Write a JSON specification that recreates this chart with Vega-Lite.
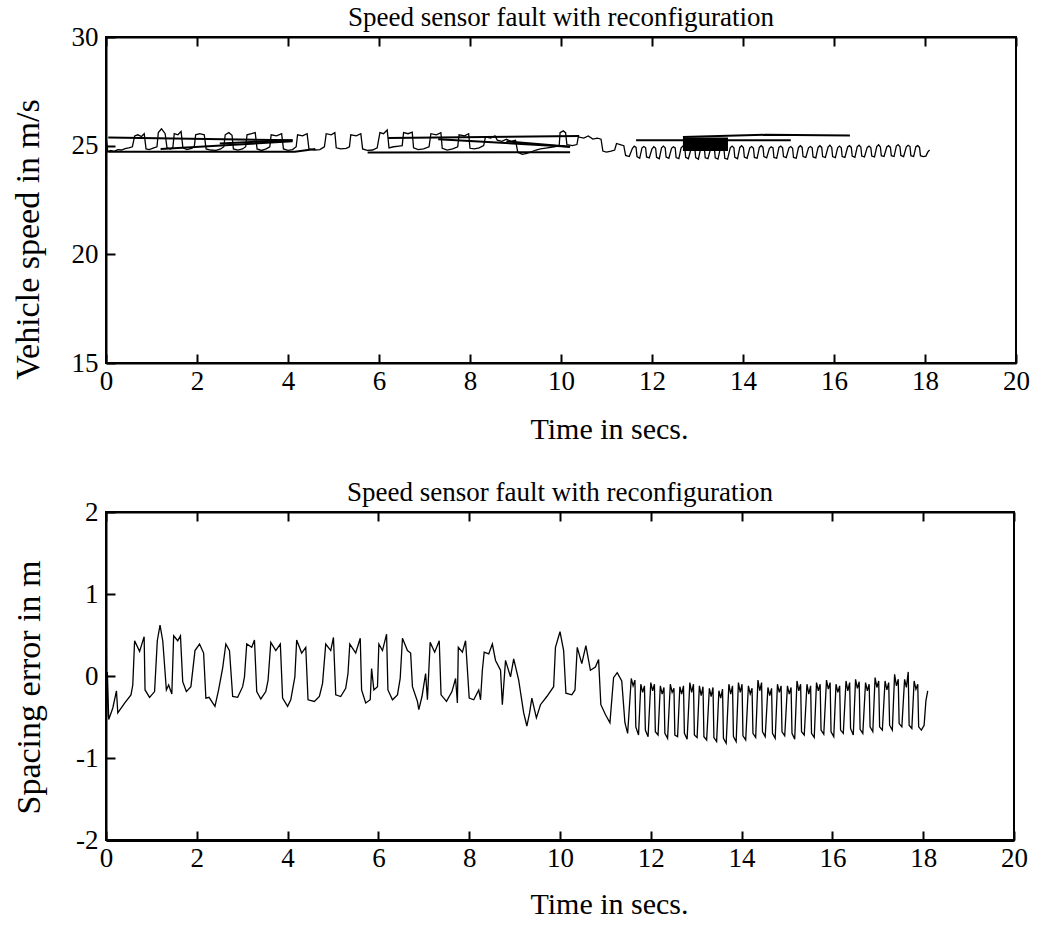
{
"$schema": "https://vega.github.io/schema/vega-lite/v6.json",
"background": "white",
"padding": {"left": 10, "top": 3, "right": 10, "bottom": 10},
"bounds": "flush",
"spacing": 149,
"config": {
  "font": "Liberation Serif",
  "view": {"stroke": "black", "strokeWidth": 2},
  "title": {"font": "Liberation Serif", "fontSize": 27, "fontWeight": "normal", "color": "black", "baseline": "alphabetic", "offset": -9},
  "axis": {"domainColor": "black", "domainWidth": 2, "tickColor": "black", "tickWidth": 2, "labelColor": "black", "titleColor": "black", "labelFont": "Liberation Serif", "titleFont": "Liberation Serif", "labelFontSize": 27, "titleFontSize": 30, "titleFontWeight": "normal", "grid": false, "tickSize": -9, "labelPadding": 17, "labelFlush": false, "labelOverlap": false, "labelExpr": "datum.value + ''"},
  "axisX": {"labelPadding": 14},
  "axisY": {"titleFontSize": 34}
},
"datasets": {
"speed": [
{"t":0,"v":15.0},{"t":0.01,"v":25.25},{"t":0.04,"v":24.72},{"t":0.1,"v":24.78},{"t":0.18,"v":24.74},{"t":0.26,"v":24.82},{"t":0.34,"v":24.8},{"t":0.42,"v":24.86},{"t":0.5,"v":24.9},{"t":0.58,"v":24.95},
{"t":0.63,"v":25.45},{"t":0.7,"v":25.5},{"t":0.78,"v":25.42},{"t":0.84,"v":25.55},{"t":0.88,"v":24.85},{"t":0.95,"v":24.82},{"t":1.05,"v":24.9},{"t":1.12,"v":24.95},
{"t":1.15,"v":25.6},{"t":1.22,"v":25.78},{"t":1.3,"v":25.55},{"t":1.34,"v":24.9},{"t":1.42,"v":24.85},{"t":1.47,"v":24.92},
{"t":1.5,"v":25.55},{"t":1.58,"v":25.5},{"t":1.65,"v":25.65},{"t":1.69,"v":24.9},{"t":1.78,"v":24.82},{"t":1.88,"v":24.88},{"t":1.94,"v":24.95},
{"t":1.97,"v":25.5},{"t":2.06,"v":25.55},{"t":2.16,"v":25.5},{"t":2.2,"v":24.85},{"t":2.3,"v":24.8},{"t":2.42,"v":24.78},{"t":2.52,"v":24.85},{"t":2.59,"v":24.95},
{"t":2.62,"v":25.5},{"t":2.7,"v":25.6},{"t":2.77,"v":25.48},{"t":2.8,"v":24.85},{"t":2.9,"v":24.8},{"t":3.0,"v":24.85},{"t":3.07,"v":24.95},
{"t":3.1,"v":25.5},{"t":3.2,"v":25.55},{"t":3.28,"v":25.6},{"t":3.32,"v":24.85},{"t":3.42,"v":24.78},{"t":3.52,"v":24.85},{"t":3.6,"v":24.95},
{"t":3.63,"v":25.5},{"t":3.75,"v":25.45},{"t":3.86,"v":25.55},{"t":3.9,"v":24.85},{"t":4.0,"v":24.78},{"t":4.1,"v":24.82},{"t":4.18,"v":24.95},
{"t":4.21,"v":25.5},{"t":4.32,"v":25.45},{"t":4.42,"v":25.55},{"t":4.46,"v":24.85},{"t":4.58,"v":24.8},{"t":4.7,"v":24.82},{"t":4.8,"v":24.95},
{"t":4.84,"v":25.55},{"t":4.95,"v":25.5},{"t":5.03,"v":25.6},{"t":5.06,"v":24.9},{"t":5.16,"v":24.85},{"t":5.28,"v":24.88},{"t":5.35,"v":24.95},
{"t":5.38,"v":25.5},{"t":5.5,"v":25.45},{"t":5.6,"v":25.55},{"t":5.64,"v":24.85},{"t":5.74,"v":24.78},{"t":5.86,"v":24.8},{"t":5.96,"v":24.9},
{"t":6.02,"v":25.6},{"t":6.1,"v":25.55},{"t":6.18,"v":25.72},{"t":6.22,"v":24.9},{"t":6.32,"v":24.95},{"t":6.44,"v":24.98},{"t":6.51,"v":25.0},
{"t":6.54,"v":25.6},{"t":6.64,"v":25.55},{"t":6.73,"v":25.62},{"t":6.76,"v":24.9},{"t":6.86,"v":24.82},{"t":6.98,"v":24.85},{"t":7.1,"v":24.95},
{"t":7.14,"v":25.55},{"t":7.26,"v":25.5},{"t":7.36,"v":25.6},{"t":7.39,"v":24.88},{"t":7.5,"v":24.8},{"t":7.62,"v":24.85},{"t":7.73,"v":24.95},
{"t":7.76,"v":25.5},{"t":7.88,"v":25.45},{"t":7.97,"v":25.55},{"t":8.0,"v":24.88},{"t":8.1,"v":24.85},{"t":8.2,"v":24.9},{"t":8.3,"v":25.0},
{"t":8.34,"v":25.4},{"t":8.45,"v":25.35},{"t":8.55,"v":25.45},{"t":8.6,"v":25.25},{"t":8.7,"v":25.2},{"t":8.8,"v":25.3},{"t":8.9,"v":25.2},{"t":9.0,"v":25.25},
{"t":9.05,"v":24.7},{"t":9.15,"v":24.6},{"t":9.25,"v":24.65},{"t":9.35,"v":24.72},{"t":9.45,"v":24.8},{"t":9.55,"v":24.85},{"t":9.7,"v":24.9},{"t":9.85,"v":24.95},{"t":9.96,"v":25.0},
{"t":9.98,"v":25.6},{"t":10.05,"v":25.68},{"t":10.1,"v":25.6},{"t":10.13,"v":25.05},{"t":10.25,"v":25.0},{"t":10.35,"v":25.05},
{"t":10.38,"v":25.4},{"t":10.5,"v":25.35},{"t":10.6,"v":25.45},{"t":10.7,"v":25.3},{"t":10.8,"v":25.35},{"t":10.88,"v":25.3},
{"t":10.92,"v":24.75},{"t":11.0,"v":24.7},{"t":11.1,"v":24.75},{"t":11.18,"v":24.8},{"t":11.22,"v":25.1},{"t":11.3,"v":25.05},{"t":11.38,"v":25.0},{"t":11.42,"v":24.55},{"t":11.5,"v":24.5},
{"t":11.57,"v":24.88},{"t":11.61,"v":24.98},{"t":11.65,"v":24.92},{"t":11.67,"v":24.5},{"t":11.73,"v":24.42},
{"t":11.78,"v":24.9},{"t":11.82,"v":24.96},{"t":11.86,"v":24.9},{"t":11.88,"v":24.48},{"t":11.94,"v":24.44},
{"t":12.0,"v":24.86},{"t":12.04,"v":24.95},{"t":12.08,"v":24.88},{"t":12.1,"v":24.46},{"t":12.16,"v":24.4},
{"t":12.21,"v":24.9},{"t":12.25,"v":24.98},{"t":12.29,"v":24.9},{"t":12.31,"v":24.48},{"t":12.37,"v":24.42},
{"t":12.43,"v":24.88},{"t":12.47,"v":24.95},{"t":12.51,"v":24.9},{"t":12.53,"v":24.45},{"t":12.59,"v":24.4},
{"t":12.64,"v":24.9},{"t":12.68,"v":24.98},{"t":12.72,"v":24.92},{"t":12.74,"v":24.46},{"t":12.8,"v":24.4},
{"t":12.86,"v":24.88},{"t":12.9,"v":24.96},{"t":12.94,"v":24.9},{"t":12.96,"v":24.45},{"t":13.02,"v":24.38},
{"t":13.07,"v":24.9},{"t":13.11,"v":24.95},{"t":13.15,"v":24.88},{"t":13.17,"v":24.44},{"t":13.23,"v":24.4},
{"t":13.29,"v":24.88},{"t":13.33,"v":24.96},{"t":13.37,"v":24.9},{"t":13.39,"v":24.44},{"t":13.45,"v":24.38},
{"t":13.5,"v":24.86},{"t":13.54,"v":24.94},{"t":13.58,"v":24.88},{"t":13.6,"v":24.42},{"t":13.66,"v":24.38},
{"t":13.72,"v":24.9},{"t":13.76,"v":24.98},{"t":13.8,"v":24.9},{"t":13.82,"v":24.46},{"t":13.88,"v":24.4},
{"t":13.93,"v":24.92},{"t":13.97,"v":25.0},{"t":14.01,"v":24.9},{"t":14.03,"v":24.48},{"t":14.09,"v":24.42},
{"t":14.15,"v":24.9},{"t":14.19,"v":24.96},{"t":14.23,"v":24.88},{"t":14.25,"v":24.46},{"t":14.31,"v":24.42},
{"t":14.36,"v":24.92},{"t":14.4,"v":25.0},{"t":14.44,"v":24.92},{"t":14.46,"v":24.5},{"t":14.52,"v":24.44},
{"t":14.58,"v":24.88},{"t":14.62,"v":24.95},{"t":14.66,"v":24.9},{"t":14.68,"v":24.46},{"t":14.74,"v":24.42},
{"t":14.79,"v":24.92},{"t":14.83,"v":24.98},{"t":14.87,"v":24.9},{"t":14.89,"v":24.5},{"t":14.95,"v":24.45},
{"t":15.01,"v":24.9},{"t":15.05,"v":24.96},{"t":15.09,"v":24.88},{"t":15.11,"v":24.46},{"t":15.17,"v":24.42},
{"t":15.22,"v":24.92},{"t":15.26,"v":25.0},{"t":15.3,"v":24.92},{"t":15.32,"v":24.5},{"t":15.38,"v":24.46},
{"t":15.44,"v":24.9},{"t":15.48,"v":24.96},{"t":15.52,"v":24.9},{"t":15.54,"v":24.48},{"t":15.6,"v":24.44},
{"t":15.65,"v":24.92},{"t":15.69,"v":25.0},{"t":15.73,"v":24.92},{"t":15.75,"v":24.5},{"t":15.81,"v":24.46},
{"t":15.87,"v":24.94},{"t":15.91,"v":25.02},{"t":15.95,"v":24.92},{"t":15.97,"v":24.5},{"t":16.03,"v":24.45},
{"t":16.08,"v":24.9},{"t":16.12,"v":24.98},{"t":16.16,"v":24.9},{"t":16.18,"v":24.5},{"t":16.24,"v":24.46},
{"t":16.3,"v":24.94},{"t":16.34,"v":25.0},{"t":16.38,"v":24.92},{"t":16.4,"v":24.52},{"t":16.46,"v":24.46},
{"t":16.51,"v":24.95},{"t":16.55,"v":25.02},{"t":16.59,"v":24.94},{"t":16.61,"v":24.52},{"t":16.67,"v":24.48},
{"t":16.73,"v":24.92},{"t":16.77,"v":24.98},{"t":16.81,"v":24.9},{"t":16.83,"v":24.52},{"t":16.89,"v":24.48},
{"t":16.94,"v":24.96},{"t":16.98,"v":25.04},{"t":17.02,"v":24.94},{"t":17.04,"v":24.54},{"t":17.1,"v":24.5},
{"t":17.16,"v":24.94},{"t":17.2,"v":25.0},{"t":17.24,"v":24.92},{"t":17.26,"v":24.54},{"t":17.32,"v":24.5},
{"t":17.37,"v":24.98},{"t":17.41,"v":25.05},{"t":17.45,"v":24.95},{"t":17.47,"v":24.55},{"t":17.53,"v":24.5},
{"t":17.59,"v":24.95},{"t":17.63,"v":25.02},{"t":17.67,"v":24.96},{"t":17.69,"v":24.54},{"t":17.75,"v":24.5},
{"t":17.8,"v":24.95},{"t":17.84,"v":25.0},{"t":17.88,"v":24.92},{"t":17.9,"v":24.54},{"t":17.96,"v":24.5},
{"t":18.02,"v":24.52},{"t":18.06,"v":24.7},{"t":18.1,"v":24.8}
],
"speedArt": [
{"seg":"A","t":0.05,"v":25.38},{"seg":"A","t":4.1,"v":25.25},
{"seg":"B","t":0.05,"v":24.72},{"seg":"B","t":4.15,"v":24.72},{"seg":"B","t":4.6,"v":24.85},
{"seg":"C","t":1.2,"v":24.85},{"seg":"C","t":4.1,"v":25.2},
{"seg":"D","t":2.5,"v":25.1},{"seg":"D","t":4.1,"v":25.25},
{"seg":"E","t":6.2,"v":25.35},{"seg":"E","t":10.4,"v":25.45},
{"seg":"F","t":5.75,"v":24.68},{"seg":"F","t":10.2,"v":24.7},
{"seg":"G","t":7.3,"v":25.3},{"seg":"G","t":10.2,"v":24.95},
{"seg":"H","t":8.8,"v":25.2},{"seg":"H","t":10.2,"v":24.95},
{"seg":"I","t":11.65,"v":25.25},{"seg":"I","t":15.05,"v":25.25},
{"seg":"J","t":12.68,"v":25.4},{"seg":"J","t":14.5,"v":25.5},{"seg":"J","t":16.35,"v":25.47}
],
"speedBlock": [
{"t1":12.68,"t2":13.67,"v1":24.75,"v2":25.38}
],
"spacing": [
{"t":0,"v":-1.95},{"t":0.005,"v":0.75},{"t":0.015,"v":-0.5},{"t":0.03,"v":0.05},{"t":0.06,"v":-0.53},{"t":0.15,"v":-0.39},{"t":0.23,"v":-0.18},{"t":0.26,"v":-0.45},{"t":0.41,"v":-0.33},{"t":0.55,"v":-0.23},{"t":0.59,"v":-0.11},
{"t":0.63,"v":0.43},{"t":0.74,"v":0.3},{"t":0.84,"v":0.48},{"t":0.86,"v":-0.17},{"t":0.96,"v":-0.26},{"t":1.07,"v":-0.19},
{"t":1.13,"v":0.43},{"t":1.19,"v":0.62},{"t":1.25,"v":0.43},{"t":1.33,"v":-0.17},{"t":1.38,"v":-0.11},{"t":1.45,"v":-0.22},
{"t":1.49,"v":0.49},{"t":1.58,"v":0.43},{"t":1.64,"v":0.49},{"t":1.69,"v":-0.07},{"t":1.77,"v":-0.19},{"t":1.87,"v":-0.13},
{"t":1.96,"v":0.31},{"t":2.06,"v":0.39},{"t":2.15,"v":0.28},{"t":2.2,"v":-0.27},{"t":2.27,"v":-0.26},{"t":2.4,"v":-0.37},{"t":2.48,"v":-0.17},{"t":2.57,"v":0.1},
{"t":2.64,"v":0.39},{"t":2.72,"v":0.31},{"t":2.79,"v":-0.25},{"t":2.9,"v":-0.26},{"t":3.01,"v":-0.13},{"t":3.05,"v":-0.01},
{"t":3.1,"v":0.39},{"t":3.21,"v":0.35},{"t":3.27,"v":0.44},{"t":3.32,"v":-0.19},{"t":3.41,"v":-0.28},{"t":3.52,"v":-0.19},{"t":3.57,"v":-0.05},
{"t":3.63,"v":0.41},{"t":3.74,"v":0.31},{"t":3.84,"v":0.39},{"t":3.89,"v":-0.27},{"t":4.0,"v":-0.37},{"t":4.07,"v":-0.29},{"t":4.16,"v":-0.01},
{"t":4.2,"v":0.44},{"t":4.31,"v":0.28},{"t":4.4,"v":0.35},{"t":4.45,"v":-0.29},{"t":4.59,"v":-0.31},{"t":4.7,"v":-0.25},{"t":4.77,"v":-0.09},
{"t":4.84,"v":0.39},{"t":4.95,"v":0.31},{"t":5.01,"v":0.47},{"t":5.06,"v":-0.23},{"t":5.17,"v":-0.25},{"t":5.28,"v":-0.15},{"t":5.33,"v":0.03},
{"t":5.37,"v":0.39},{"t":5.5,"v":0.28},{"t":5.6,"v":0.46},{"t":5.63,"v":-0.17},{"t":5.72,"v":-0.33},{"t":5.82,"v":-0.29},{"t":5.85,"v":0.09},{"t":5.9,"v":-0.17},{"t":5.98,"v":-0.13},
{"t":6.01,"v":0.39},{"t":6.09,"v":0.31},{"t":6.18,"v":0.51},{"t":6.21,"v":-0.17},{"t":6.31,"v":-0.29},{"t":6.42,"v":-0.23},{"t":6.48,"v":-0.03},
{"t":6.53,"v":0.46},{"t":6.64,"v":0.31},{"t":6.71,"v":0.28},{"t":6.75,"v":-0.13},{"t":6.86,"v":-0.31},{"t":6.89,"v":-0.41},{"t":6.96,"v":-0.25},{"t":7.04,"v":0.03},{"t":7.08,"v":-0.29},
{"t":7.14,"v":0.41},{"t":7.24,"v":0.29},{"t":7.34,"v":0.43},{"t":7.38,"v":-0.23},{"t":7.5,"v":-0.31},{"t":7.62,"v":-0.19},{"t":7.7,"v":-0.03},{"t":7.74,"v":-0.33},
{"t":7.76,"v":0.35},{"t":7.85,"v":0.29},{"t":7.92,"v":0.43},{"t":8.0,"v":-0.27},{"t":8.1,"v":-0.29},{"t":8.21,"v":-0.17},{"t":8.25,"v":-0.29},{"t":8.29,"v":0.07},
{"t":8.33,"v":0.29},{"t":8.43,"v":0.27},{"t":8.51,"v":0.39},{"t":8.58,"v":0.19},{"t":8.69,"v":0.07},{"t":8.73,"v":-0.35},{"t":8.8,"v":0.19},{"t":8.91,"v":-0.01},{"t":8.98,"v":0.21},{"t":9.09,"v":-0.05},
{"t":9.2,"v":-0.45},{"t":9.27,"v":-0.61},{"t":9.33,"v":-0.45},{"t":9.38,"v":-0.27},{"t":9.48,"v":-0.51},{"t":9.57,"v":-0.35},{"t":9.71,"v":-0.25},{"t":9.86,"v":-0.13},
{"t":9.9,"v":0.35},{"t":10.0,"v":0.54},{"t":10.08,"v":0.31},{"t":10.13,"v":-0.21},{"t":10.26,"v":-0.23},{"t":10.33,"v":-0.17},
{"t":10.38,"v":0.35},{"t":10.48,"v":0.15},{"t":10.57,"v":0.37},{"t":10.67,"v":0.07},{"t":10.78,"v":0.11},{"t":10.85,"v":0.2},
{"t":10.9,"v":-0.35},{"t":11.0,"v":-0.47},{"t":11.1,"v":-0.57},{"t":11.18,"v":-0.02},{"t":11.26,"v":0.04},{"t":11.36,"v":-0.06},{"t":11.43,"v":-0.57},{"t":11.49,"v":-0.7},
{"t":11.57,"v":-0.03},{"t":11.61,"v":-0.12},{"t":11.65,"v":-0.05},{"t":11.67,"v":-0.62},{"t":11.73,"v":-0.72},
{"t":11.78,"v":-0.1},{"t":11.82,"v":-0.2},{"t":11.86,"v":-0.12},{"t":11.88,"v":-0.66},{"t":11.94,"v":-0.74},
{"t":12.0,"v":-0.08},{"t":12.04,"v":-0.18},{"t":12.08,"v":-0.1},{"t":12.1,"v":-0.68},{"t":12.16,"v":-0.72},
{"t":12.21,"v":-0.12},{"t":12.25,"v":-0.22},{"t":12.29,"v":-0.14},{"t":12.31,"v":-0.7},{"t":12.37,"v":-0.76},
{"t":12.43,"v":-0.1},{"t":12.47,"v":-0.2},{"t":12.51,"v":-0.15},{"t":12.53,"v":-0.72},{"t":12.59,"v":-0.74},
{"t":12.64,"v":-0.13},{"t":12.68,"v":-0.22},{"t":12.72,"v":-0.12},{"t":12.74,"v":-0.7},{"t":12.8,"v":-0.77},
{"t":12.86,"v":-0.08},{"t":12.9,"v":-0.2},{"t":12.94,"v":-0.1},{"t":12.96,"v":-0.72},{"t":13.02,"v":-0.75},
{"t":13.07,"v":-0.12},{"t":13.11,"v":-0.24},{"t":13.15,"v":-0.13},{"t":13.17,"v":-0.74},{"t":13.23,"v":-0.78},
{"t":13.29,"v":-0.15},{"t":13.33,"v":-0.25},{"t":13.37,"v":-0.14},{"t":13.39,"v":-0.75},{"t":13.45,"v":-0.8},
{"t":13.5,"v":-0.18},{"t":13.54,"v":-0.27},{"t":13.58,"v":-0.16},{"t":13.6,"v":-0.76},{"t":13.66,"v":-0.82},
{"t":13.72,"v":-0.1},{"t":13.76,"v":-0.22},{"t":13.8,"v":-0.12},{"t":13.82,"v":-0.74},{"t":13.88,"v":-0.8},
{"t":13.93,"v":-0.08},{"t":13.97,"v":-0.2},{"t":14.01,"v":-0.1},{"t":14.03,"v":-0.73},{"t":14.09,"v":-0.78},
{"t":14.15,"v":-0.12},{"t":14.19,"v":-0.22},{"t":14.23,"v":-0.15},{"t":14.25,"v":-0.7},{"t":14.31,"v":-0.75},
{"t":14.36,"v":-0.05},{"t":14.4,"v":-0.18},{"t":14.44,"v":-0.08},{"t":14.46,"v":-0.68},{"t":14.52,"v":-0.74},
{"t":14.58,"v":-0.14},{"t":14.62,"v":-0.24},{"t":14.66,"v":-0.15},{"t":14.68,"v":-0.7},{"t":14.74,"v":-0.76},
{"t":14.79,"v":-0.1},{"t":14.83,"v":-0.2},{"t":14.87,"v":-0.12},{"t":14.89,"v":-0.68},{"t":14.95,"v":-0.73},
{"t":15.01,"v":-0.12},{"t":15.05,"v":-0.22},{"t":15.09,"v":-0.14},{"t":15.11,"v":-0.7},{"t":15.17,"v":-0.77},
{"t":15.22,"v":-0.06},{"t":15.26,"v":-0.18},{"t":15.3,"v":-0.1},{"t":15.32,"v":-0.68},{"t":15.38,"v":-0.72},
{"t":15.44,"v":-0.1},{"t":15.48,"v":-0.22},{"t":15.52,"v":-0.12},{"t":15.54,"v":-0.7},{"t":15.6,"v":-0.75},
{"t":15.65,"v":-0.08},{"t":15.69,"v":-0.18},{"t":15.73,"v":-0.1},{"t":15.75,"v":-0.66},{"t":15.81,"v":-0.71},
{"t":15.87,"v":-0.05},{"t":15.91,"v":-0.16},{"t":15.95,"v":-0.08},{"t":15.97,"v":-0.68},{"t":16.03,"v":-0.74},
{"t":16.08,"v":-0.1},{"t":16.12,"v":-0.2},{"t":16.16,"v":-0.12},{"t":16.18,"v":-0.66},{"t":16.24,"v":-0.7},
{"t":16.3,"v":-0.06},{"t":16.34,"v":-0.18},{"t":16.38,"v":-0.08},{"t":16.4,"v":-0.64},{"t":16.46,"v":-0.72},
{"t":16.51,"v":-0.04},{"t":16.55,"v":-0.15},{"t":16.59,"v":-0.07},{"t":16.61,"v":-0.65},{"t":16.67,"v":-0.7},
{"t":16.73,"v":-0.08},{"t":16.77,"v":-0.18},{"t":16.81,"v":-0.1},{"t":16.83,"v":-0.62},{"t":16.89,"v":-0.68},
{"t":16.94,"v":-0.02},{"t":16.98,"v":-0.14},{"t":17.02,"v":-0.06},{"t":17.04,"v":-0.62},{"t":17.1,"v":-0.66},
{"t":17.16,"v":-0.06},{"t":17.2,"v":-0.17},{"t":17.24,"v":-0.08},{"t":17.26,"v":-0.6},{"t":17.32,"v":-0.66},
{"t":17.37,"v":0.02},{"t":17.41,"v":-0.12},{"t":17.45,"v":-0.04},{"t":17.47,"v":-0.58},{"t":17.53,"v":-0.62},
{"t":17.59,"v":-0.04},{"t":17.63,"v":-0.14},{"t":17.67,"v":0.05},{"t":17.69,"v":-0.6},{"t":17.75,"v":-0.64},
{"t":17.8,"v":-0.06},{"t":17.84,"v":-0.16},{"t":17.88,"v":-0.1},{"t":17.9,"v":-0.62},{"t":17.96,"v":-0.66},
{"t":18.02,"v":-0.6},{"t":18.06,"v":-0.3},{"t":18.1,"v":-0.18}
]
},
"vconcat": [
{
  "width": 910, "height": 326,
  "title": {"text": "Speed sensor fault with reconfiguration"},
  "layer": [
    {"data": {"name": "speed"},
     "mark": {"type": "line", "color": "black", "strokeWidth": 1.3},
     "encoding": {
       "x": {"field": "t", "type": "quantitative", "scale": {"domain": [0, 20], "nice": false},
             "axis": {"orient": "bottom", "values": [0,2,4,6,8,10,12,14,16,18,20], "title": "Time in secs.", "titlePadding": 20, "titleX": 503}},
       "y": {"field": "v", "type": "quantitative", "scale": {"domain": [15, 30], "nice": false, "zero": false},
             "axis": {"values": [15,20,25,30], "title": "Vehicle speed in m/s", "titlePadding": 26, "titleY": 202}}
     }},
    {"data": {"name": "speedArt"},
     "mark": {"type": "line", "color": "black", "strokeWidth": 2},
     "encoding": {
       "x": {"field": "t", "type": "quantitative", "axis": {"orient": "top", "values": [0,2,4,6,8,10,12,14,16,18,20], "labels": false, "title": null}},
       "y": {"field": "v", "type": "quantitative"},
       "detail": {"field": "seg"}
     }},
    {"data": {"name": "speedBlock"},
     "mark": {"type": "rect", "color": "black"},
     "encoding": {
       "x": {"field": "t1", "type": "quantitative", "axis": null},
       "x2": {"field": "t2"},
       "y": {"field": "v1", "type": "quantitative"},
       "y2": {"field": "v2"}
     }}
  ],
  "resolve": {"axis": {"x": "independent"}}
},
{
  "width": 908, "height": 328,
  "title": {"text": "Speed sensor fault with reconfiguration"},
  "layer": [
    {"data": {"name": "spacing"},
     "mark": {"type": "line", "color": "black", "strokeWidth": 1.3},
     "encoding": {
       "x": {"field": "t", "type": "quantitative", "scale": {"domain": [0, 20], "nice": false},
             "axis": {"orient": "bottom", "values": [0,2,4,6,8,10,12,14,16,18,20], "title": "Time in secs.", "titlePadding": 18, "domainWidth": 3, "titleX": 503}},
       "y": {"field": "v", "type": "quantitative", "scale": {"domain": [-2, 2], "nice": false, "zero": false},
             "axis": {"values": [-2,-1,0,1,2], "title": "Spacing error in m", "titlePadding": 29, "titleY": 175}}
     }},
    {"data": {"name": "spacing"},
     "mark": {"type": "line", "opacity": 0},
     "encoding": {
       "x": {"field": "t", "type": "quantitative", "axis": {"orient": "top", "values": [0,2,4,6,8,10,12,14,16,18,20], "labels": false, "title": null}},
       "y": {"field": "v", "type": "quantitative"}
     }}
  ],
  "resolve": {"axis": {"x": "independent"}}
}
]
}
